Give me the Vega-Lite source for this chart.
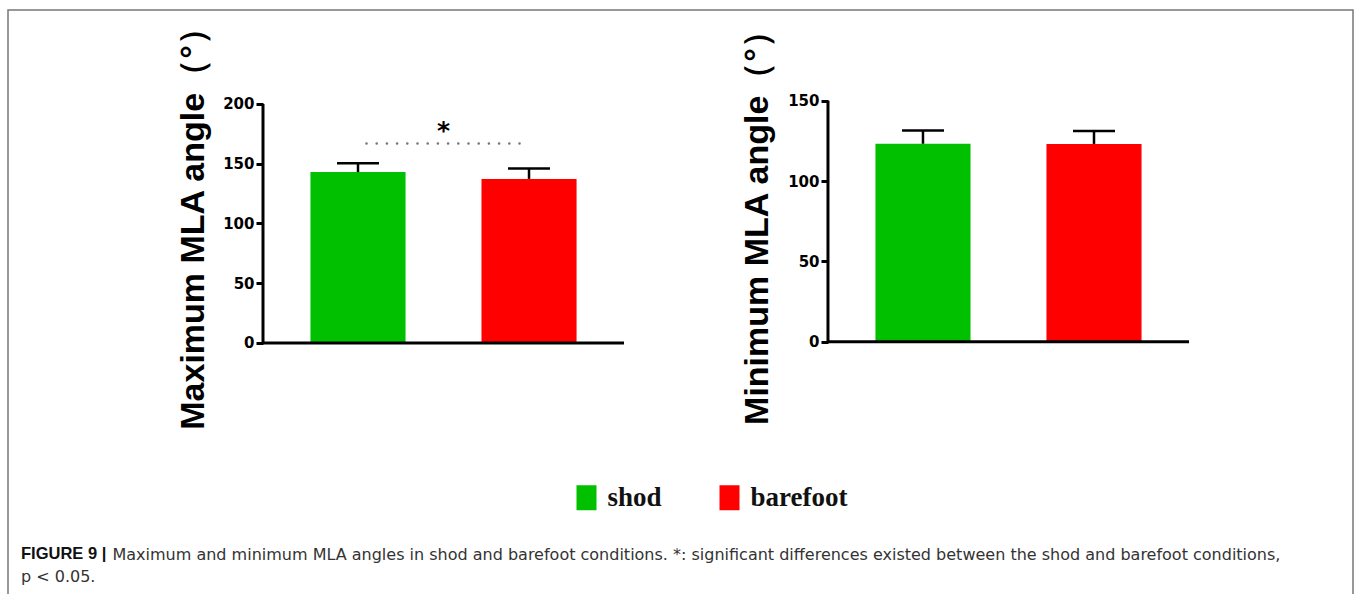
{
  "$schema": "https://vega.github.io/schema/vega-lite/v6.json",
  "width": 1345,
  "height": 586,
  "autosize": {"type": "none"},
  "padding": {"left": 8, "top": 10, "right": 3, "bottom": -2},
  "background": "white",
  "title": {
    "text": "FIGURE 9 |",
    "subtitle": "p < 0.05.",
    "orient": "bottom",
    "anchor": "start",
    "frame": "group",
    "offset": -50,
    "dx": 13,
    "font": "Liberation Sans",
    "fontSize": 16.5,
    "fontWeight": "bold",
    "color": "#111111",
    "subtitleFont": "DejaVu Sans",
    "subtitleFontSize": 16,
    "subtitleColor": "#333333",
    "subtitlePadding": 6
  },
  "datasets": {
    "bars": [
      {"panel": "Maximum", "condition": "shod", "mean": 143.0, "upper": 150.5},
      {"panel": "Maximum", "condition": "barefoot", "mean": 137.3, "upper": 146.0},
      {"panel": "Minimum", "condition": "shod", "mean": 123.2, "upper": 131.5},
      {"panel": "Minimum", "condition": "barefoot", "mean": 123.0, "upper": 131.1}
    ],
    "panels": [
      {"panel": "Maximum", "base": 0, "top": 200},
      {"panel": "Minimum", "base": 0, "top": 150}
    ],
    "sig": [
      {"panel": "Maximum", "condition": "shod", "level": 167},
      {"panel": "Maximum", "condition": "barefoot", "level": 167}
    ],
    "star": [
      {"panel": "Maximum", "level": 171, "label": "*"}
    ]
  },
  "layer": [
    {
      "layer": [
        {
          "data": {"name": "bars"},
          "transform": [{"filter": "datum.panel === 'Maximum'"}],
          "mark": {"type": "bar"},
          "encoding": {
            "x": {
              "field": "panel", "type": "nominal",
              "scale": {"domain": ["Maximum", "Minimum"], "paddingInner": 0.361, "paddingOuter": 0.3708, "align": 0.6086},
              "axis": {
                "orient": "bottom", "labels": false, "ticks": false, "domain": false, "grid": false,
                "title": "Maximum and minimum MLA angles in shod and barefoot conditions. *: significant differences existed between the shod and barefoot conditions,",
                "titleX": 104, "titleY": -37, "titleAnchor": "start", "titleAlign": "left", "titleBaseline": "alphabetic",
                "titleFont": "DejaVu Sans", "titleFontSize": 16, "titleFontWeight": "normal", "titleColor": "#333333", "titleLimit": 3000
              }
            },
            "xOffset": {"field": "condition", "type": "nominal", "sort": ["shod", "barefoot"], "scale": {"paddingInner": 0.444, "paddingOuter": 0.2775}},
            "y": {
              "field": "mean", "type": "quantitative", "stack": null,
              "scale": {"domain": [-211.72, 278.66], "nice": false, "zero": false},
              "axis": {
                "orient": "left", "offset": -255, "values": [0, 50, 100, 150, 200],
                "domain": false, "grid": false, "ticks": true, "tickSize": 7, "tickWidth": 3, "tickColor": "black",
                "labelFont": "DejaVu Sans", "labelFontSize": 15, "labelFontWeight": "bold", "labelColor": "black",
                "labelPadding": 2, "labelFlush": false, "labelOverlap": false,
                "title": "Maximum MLA angle（°）", "titleFont": "Liberation Sans", "titleFontSize": 34, "titleFontWeight": "bold",
                "titleColor": "black", "titleX": -60, "titleY": 210, "titleAngle": -90, "titleAlign": "center", "titleBaseline": "alphabetic"
              }
            },
            "color": {
              "field": "condition", "type": "nominal",
              "scale": {"domain": ["shod", "barefoot"], "range": ["#00C000", "#FF0000"]},
              "legend": {
                "orient": "none", "legendX": 565, "legendY": 474, "direction": "horizontal", "title": null,
                "symbolType": "M-0.8,-1H0.8V1H-0.8Z", "symbolSize": 625, "symbolStrokeWidth": 0, "symbolOpacity": 1,
                "labelFont": "Liberation Serif", "labelFontSize": 27, "labelFontWeight": "bold", "labelColor": "#111111",
                "labelOffset": 7.5, "columnPadding": 54, "padding": 0
              }
            }
          }
        },
        {
          "data": {"name": "bars"},
          "transform": [{"filter": "datum.panel === 'Maximum'"}],
          "mark": {"type": "rule", "strokeWidth": 2.5, "color": "black"},
          "encoding": {
            "x": {"field": "panel", "type": "nominal"},
            "xOffset": {"field": "condition", "type": "nominal", "sort": ["shod", "barefoot"]},
            "y": {"field": "mean", "type": "quantitative"},
            "y2": {"field": "upper"}
          }
        },
        {
          "data": {"name": "bars"},
          "transform": [{"filter": "datum.panel === 'Maximum'"}],
          "mark": {"type": "tick", "size": 42, "thickness": 2.5, "color": "black", "opacity": 1, "orient": "horizontal"},
          "encoding": {
            "x": {"field": "panel", "type": "nominal"},
            "xOffset": {"field": "condition", "type": "nominal", "sort": ["shod", "barefoot"]},
            "y": {"field": "upper", "type": "quantitative"}
          }
        },
        {
          "data": {"name": "panels"},
          "transform": [{"filter": "datum.panel === 'Maximum'"}],
          "mark": {"type": "rule", "strokeWidth": 3, "color": "black"},
          "encoding": {
            "x": {"field": "panel", "type": "nominal", "bandPosition": 0},
            "y": {"field": "base", "type": "quantitative"},
            "y2": {"field": "top"}
          }
        },
        {
          "data": {"name": "panels"},
          "transform": [{"filter": "datum.panel === 'Maximum'"}],
          "mark": {"type": "tick", "size": 361, "thickness": 3, "color": "black", "opacity": 1, "orient": "horizontal"},
          "encoding": {
            "x": {"field": "panel", "type": "nominal"},
            "y": {"field": "base", "type": "quantitative"}
          }
        },
        {
          "data": {"name": "sig"},
          "mark": {"type": "line", "color": "#777777", "strokeWidth": 2.6, "strokeCap": "round", "strokeDash": [0.01, 10.19], "strokeDashOffset": 1.7},
          "encoding": {
            "x": {"field": "panel", "type": "nominal"},
            "xOffset": {"field": "condition", "type": "nominal", "sort": ["shod", "barefoot"]},
            "y": {"field": "level", "type": "quantitative"}
          }
        },
        {
          "data": {"name": "star"},
          "mark": {"type": "text", "font": "DejaVu Sans", "fontSize": 25, "fontWeight": "bold", "baseline": "alphabetic", "align": "center", "color": "black"},
          "encoding": {
            "x": {"field": "panel", "type": "nominal"},
            "y": {"field": "level", "type": "quantitative"},
            "text": {"field": "label", "type": "nominal"}
          }
        }
      ]
    },
    {
      "layer": [
        {
          "data": {"name": "bars"},
          "transform": [{"filter": "datum.panel === 'Minimum'"}],
          "mark": {"type": "bar"},
          "encoding": {
            "x": {"field": "panel", "type": "nominal"},
            "xOffset": {"field": "condition", "type": "nominal", "sort": ["shod", "barefoot"]},
            "y": {
              "field": "mean", "type": "quantitative", "stack": null,
              "scale": {"domain": [-158.28, 206.45], "nice": false, "zero": false},
              "axis": {
                "orient": "left", "offset": -820, "values": [0, 50, 100, 150],
                "domain": false, "grid": false, "ticks": true, "tickSize": 7, "tickWidth": 3, "tickColor": "black",
                "labelFont": "DejaVu Sans", "labelFontSize": 15, "labelFontWeight": "bold", "labelColor": "black",
                "labelPadding": 2, "labelFlush": false, "labelOverlap": false,
                "title": "Minimum MLA angle（°）", "titleFont": "Liberation Sans", "titleFontSize": 34, "titleFontWeight": "bold",
                "titleColor": "black", "titleX": -61, "titleY": 209, "titleAngle": -90, "titleAlign": "center", "titleBaseline": "alphabetic"
              }
            },
            "color": {"field": "condition", "type": "nominal"}
          }
        },
        {
          "data": {"name": "bars"},
          "transform": [{"filter": "datum.panel === 'Minimum'"}],
          "mark": {"type": "rule", "strokeWidth": 2.5, "color": "black"},
          "encoding": {
            "x": {"field": "panel", "type": "nominal"},
            "xOffset": {"field": "condition", "type": "nominal", "sort": ["shod", "barefoot"]},
            "y": {"field": "mean", "type": "quantitative"},
            "y2": {"field": "upper"}
          }
        },
        {
          "data": {"name": "bars"},
          "transform": [{"filter": "datum.panel === 'Minimum'"}],
          "mark": {"type": "tick", "size": 42, "thickness": 2.5, "color": "black", "opacity": 1, "orient": "horizontal"},
          "encoding": {
            "x": {"field": "panel", "type": "nominal"},
            "xOffset": {"field": "condition", "type": "nominal", "sort": ["shod", "barefoot"]},
            "y": {"field": "upper", "type": "quantitative"}
          }
        },
        {
          "data": {"name": "panels"},
          "transform": [{"filter": "datum.panel === 'Minimum'"}],
          "mark": {"type": "rule", "strokeWidth": 3, "color": "black"},
          "encoding": {
            "x": {"field": "panel", "type": "nominal", "bandPosition": 0},
            "y": {"field": "base", "type": "quantitative"},
            "y2": {"field": "top"}
          }
        },
        {
          "data": {"name": "panels"},
          "transform": [{"filter": "datum.panel === 'Minimum'"}],
          "mark": {"type": "tick", "size": 361, "thickness": 3, "color": "black", "opacity": 1, "orient": "horizontal"},
          "encoding": {
            "x": {"field": "panel", "type": "nominal"},
            "y": {"field": "base", "type": "quantitative"}
          }
        }
      ]
    }
  ],
  "resolve": {"scale": {"y": "independent"}, "axis": {"y": "independent"}},
  "config": {
    "view": {"stroke": "#777777", "strokeWidth": 1.5},
    "axis": {"grid": false}
  }
}
